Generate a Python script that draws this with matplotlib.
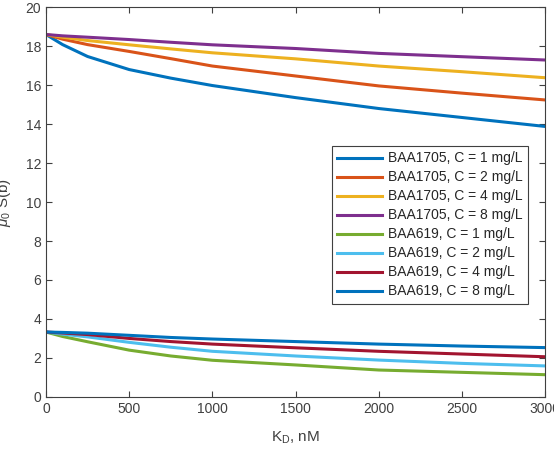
import matplotlib
matplotlib.use('Agg')
import matplotlib.pyplot as plt

plt.rcParams['font.family'] = ['Liberation Sans', 'DejaVu Sans']
plt.rcParams['mathtext.fontset'] = 'custom'
plt.rcParams['mathtext.rm'] = 'Liberation Sans'
plt.rcParams['mathtext.it'] = 'Liberation Sans:italic'

kd = [0, 100, 250, 500, 750, 1000, 1500, 2000, 2500, 3000]

# BAA1705 curves
baa1705_c1 = [18.6, 18.08, 17.47, 16.8, 16.36, 15.98, 15.36, 14.8, 14.34, 13.88]
baa1705_c2 = [18.6, 18.36, 18.08, 17.73, 17.36, 16.98, 16.47, 15.96, 15.59, 15.24]
baa1705_c4 = [18.6, 18.46, 18.29, 18.07, 17.86, 17.66, 17.35, 16.98, 16.69, 16.38]
baa1705_c8 = [18.6, 18.53, 18.46, 18.34, 18.2, 18.07, 17.88, 17.63, 17.46, 17.29]

# BAA619 curves
baa619_c1 = [3.33, 3.1, 2.83, 2.4, 2.1, 1.88, 1.64, 1.38, 1.26, 1.14]
baa619_c2 = [3.33, 3.22, 3.08, 2.8, 2.55, 2.34, 2.1, 1.89, 1.72, 1.59]
baa619_c4 = [3.33, 3.28, 3.2, 3.0, 2.84, 2.71, 2.52, 2.34, 2.2, 2.06]
baa619_c8 = [3.33, 3.31, 3.27, 3.16, 3.05, 2.97, 2.84, 2.71, 2.61, 2.53]

series = [
    (baa1705_c1, 'BAA1705, C = 1 mg/L', '#0072BD'),
    (baa1705_c2, 'BAA1705, C = 2 mg/L', '#D95319'),
    (baa1705_c4, 'BAA1705, C = 4 mg/L', '#EDB120'),
    (baa1705_c8, 'BAA1705, C = 8 mg/L', '#7E2F8E'),
    (baa619_c1, 'BAA619, C = 1 mg/L', '#77AC30'),
    (baa619_c2, 'BAA619, C = 2 mg/L', '#4DBEEE'),
    (baa619_c4, 'BAA619, C = 4 mg/L', '#A2142F'),
    (baa619_c8, 'BAA619, C = 8 mg/L', '#0072BD'),
]

fig = plt.figure(figsize=(5.54, 4.5), dpi=100)
ax = fig.add_axes([0.083, 0.118, 0.901, 0.866])

for y, label, color in series:
    ax.plot(kd, y, color=color, lw=2.2, label=label)

ax.set_xlim(0, 3000)
ax.set_ylim(0, 20)
ax.set_xticks([0, 500, 1000, 1500, 2000, 2500, 3000])
ax.set_yticks(range(0, 21, 2))
ax.tick_params(direction='in', top=True, right=True, length=4, width=0.8,
               labelsize=10, colors='#404040')
for s in ax.spines.values():
    s.set_color('#404040')
    s.set_linewidth(0.8)

ax.set_xlabel(r'K$_\mathrm{D}$, nM', fontsize=11, color='#404040')
ax.set_ylabel(r'$\mu_0$ S(b)', fontsize=11, color='#404040')
ax.yaxis.set_label_coords(-0.066, 0.5)
ax.xaxis.set_label_coords(0.5, -0.085)

leg = ax.legend(loc='upper right', bbox_to_anchor=(0.966, 0.644), fontsize=10,
                handlelength=3.25, handletextpad=0.4, labelspacing=0.36,
                fancybox=False, framealpha=1, borderpad=0.4, borderaxespad=0)
leg.get_frame().set_edgecolor('#404040')
leg.get_frame().set_linewidth(0.8)
for t in leg.get_texts():
    t.set_color('#262626')

fig.savefig('out.png', dpi=100)
